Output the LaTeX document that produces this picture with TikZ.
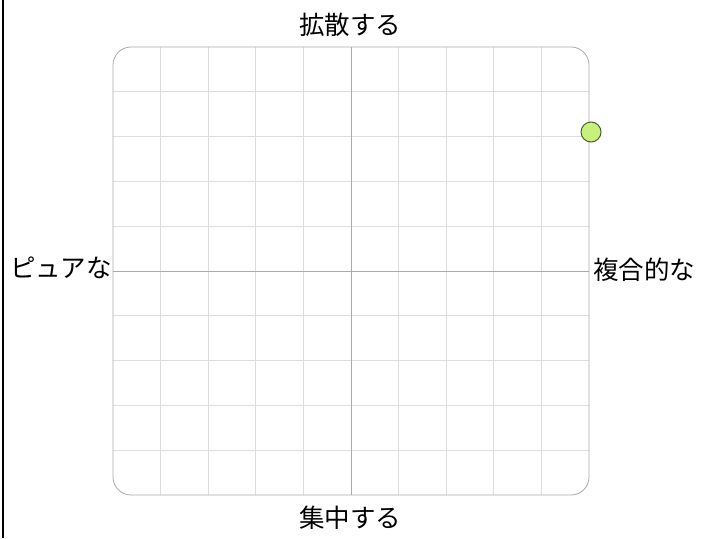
\documentclass[tikz,border=0pt]{standalone}
\usepackage{fontspec}
\newfontfamily\cjk{Noto Sans CJK JP}
\usetikzlibrary{positioning}
\definecolor{gridgray}{HTML}{DDDDDD}
\definecolor{axisgray}{HTML}{AAAAAA}
\definecolor{dotgreen}{HTML}{C8F07C}
\definecolor{dotedge}{HTML}{4F5F2F}

\begin{document}
\begin{tikzpicture}[x=1pt,y=-1pt,
    axislabel/.style={font=\cjk\fontsize{25.5}{30}\selectfont,inner sep=0pt},
    marker/.style={circle,minimum size=20pt,inner sep=0pt,fill=dotgreen,draw=dotedge,line width=1pt}]
    \useasboundingbox (0,0) rectangle (703,538);
    \draw[line width=2pt](3,0)--(3,538);
    % grid
    \foreach \i in {1,...,9}{
      \draw[gridgray,thick](113+47.6*\i,47)--(113+47.6*\i,495);
      \draw[gridgray,thick](113,47+44.8*\i)--(589,47+44.8*\i);
    }
    \draw[axisgray,thick](351,47)--(351,495);
    \draw[axisgray,thick](113,271)--(589,271);
    \draw[axisgray,thick,rounded corners=18pt](113,47) rectangle (589,495);
    % labels
    \node[axislabel] (spread) at (350,25) {拡散する};
    \node[axislabel] (focus) at (350,518) {集中する};
    \node[axislabel,anchor=east] (pure) at (112,268) {ピュアな};
    \node[axislabel,anchor=west] (complex) at (593,270) {複合的な};
    \node[marker] (dot) at (591,132) {};
  \end{tikzpicture}
\end{document}
